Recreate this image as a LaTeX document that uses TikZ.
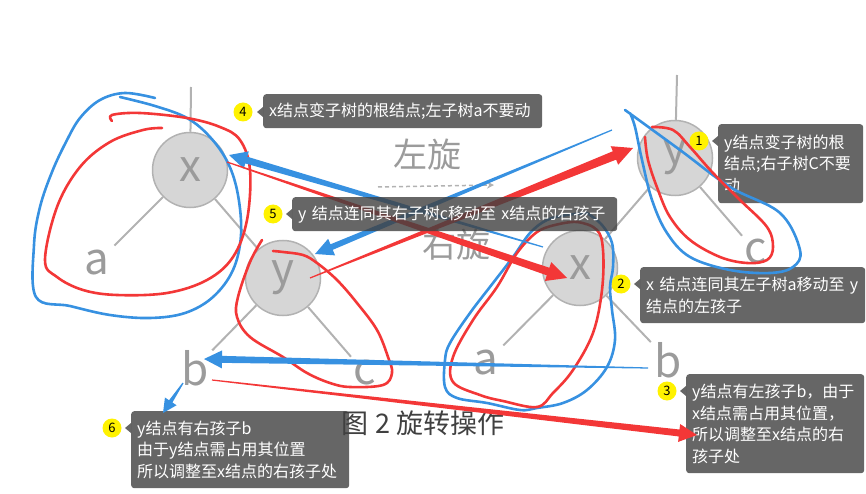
\documentclass[tikz,border=0pt]{standalone}
\usepackage{fontspec}
\setmainfont{Noto Sans CJK SC}
\usetikzlibrary{calc,arrows.meta}

\definecolor{penred}{RGB}{243,55,55}
\definecolor{penblue}{RGB}{55,145,225}
\definecolor{treeline}{RGB}{178,178,178}
\definecolor{treetext}{RGB}{155,155,155}
\definecolor{ballfill}{RGB}{214,214,214}

% hand drawn arrow: colour, tail, tip, half width, head half width, head length
\newcommand{\penarrow}[6]{%
  \coordinate (pa) at ($(#3)!#6!(#2)$);
  \fill[#1] ($(#2)!0.6pt!90:(#3)$) -- ($(pa)!#4!90:(#3)$) -- ($(pa)!#5!90:(#3)$) -- (#3)
    -- ($(pa)!#5!-90:(#3)$) -- ($(pa)!#4!-90:(#3)$) -- ($(#2)!0.6pt!-90:(#3)$) -- cycle;
}

\tikzset{
  ball/.style={circle, fill=ballfill, draw=treeline, line width=1.5pt, minimum size=75pt, inner sep=0pt, text=treetext, font=\fontsize{44}{44}\selectfont},
  leaf/.style={text=treetext, inner sep=2pt, font=\fontsize{44}{44}\selectfont},
  branch/.style={draw=treeline, line width=2pt},
  redloop/.style={draw=penred, line width=2.6pt, line cap=round, line join=round},
  blueloop/.style={draw=penblue, line width=2.6pt, line cap=round, line join=round},
  hintfill/.style={fill=black!75, fill opacity=0.8},
  hint/.style={hintfill, text opacity=1, text=white, rounded corners=3pt, inner xsep=6pt, inner ysep=0pt, align=left, anchor=north west, font=\fontsize{16}{21.5}\selectfont},
  badge/.style={circle, fill=yellow, minimum size=19pt, inner sep=0pt, font=\fontsize{13}{13}\selectfont},
}

\begin{document}
\begin{tikzpicture}[x=1pt, y=-1pt]
  \useasboundingbox (0,0) rectangle (866,494);
  % tree before the rotation
  \node[ball] (xl) at (190,170) {x};
  \node[ball] (yl) at (283,278) {y};
  \node[leaf] (al) at (97,263) {a};
  \node[leaf] (bl) at (195,368) {b};
  \node[leaf] (cl) at (365,373) {c};
  \coordinate (xltop) at (191,87);
  \draw[branch] (xltop) -- (xl);
  \draw[branch] (xl) -- (yl);
  \draw[branch, shorten >=4pt] (xl) -- (al);
  \draw[branch, shorten >=2pt] (yl) -- (bl);
  \draw[branch, shorten >=2pt] (yl) -- (cl);
  % tree after the rotation
  \node[ball] (yr) at (675,158) {y};
  \node[ball] (xr) at (580,268) {x};
  \node[leaf] (ar) at (486,363) {a};
  \node[leaf] (br) at (668,360) {b};
  \node[leaf] (cr) at (756,252) {c};
  \coordinate (yrtop) at (677,75);
  \draw[branch] (yrtop) -- (yr);
  \draw[branch] (yr) -- (xr);
  \draw[branch, shorten >=2pt] (yr) -- (cr);
  \draw[branch, shorten >=4pt] (xr) -- (ar);
  \draw[branch, shorten >=2pt] (xr) -- (br);
  % rotation marks
  \node[text=treetext, font=\fontsize{34}{34}\selectfont] (turnleft) at (427,155) {左旋};
  \node[text=treetext, font=\fontsize{34}{34}\selectfont] (turnright) at (456,245) {右旋};
  \coordinate (dashA) at (378,187);
  \coordinate (dashB) at (494,185);
  \draw[treeline, line width=1.5pt, dash pattern=on 4pt off 3pt, -{Stealth[length=7pt,width=7pt]}] (dashA) -- (dashB);
  % caption
  \node[text=black!75, font=\fontsize{27}{27}\selectfont] (caption) at (423,423) {图 2 旋转操作};

  % notes
  \node[hint, minimum width=145pt, minimum height=79pt, text width=133pt] (h1) at (718,124) {y结点变子树的根\\结点;右子树C不要\\动};
  \node[hint, minimum width=225pt, minimum height=56pt, text width=213pt] (h2) at (640,267) {x 结点连同其左子树a移动至 y\\结点的左孩子};
  \node[hint, minimum width=178pt, minimum height=99pt, text width=166pt] (h3) at (686,374) {y结点有左孩子b，由于\\x结点需占用其位置，\\所以调整至x结点的右\\孩子处};
  \node[hint, minimum width=279pt, minimum height=34pt, text width=267pt] (h4) at (263,94) {x结点变子树的根结点;左子树a不要动};
  \node[hint, minimum width=218pt, minimum height=77pt, text width=206pt] (h6) at (131,411) {y结点有右孩子b\\由于y结点需占用其位置\\所以调整至x结点的右孩子处};
  \node[badge] (n1) at (699,141) {1};
  \node[badge] (n2) at (621,284) {2};
  \node[badge] (n3) at (667,391) {3};
  \node[badge] (n4) at (243,112) {4};
  \node[badge] (n5) at (273,214) {5};
  \node[badge] (n6) at (112,428) {6};
  \foreach \h/\n in {h1/n1,h2/n2,h3/n3,h4/n4,h6/n6}
    \fill[hintfill] ($(\h.west |- \n)+(0,-5)$) -- ++(-6,5) -- ++(6,5) -- cycle;

  % pen loops
  \draw[blueloop] plot[smooth, tension=0.6] coordinates {(155,98) (125,93) (100,100) (80,118) (66,142) (52,172) (40,207) (34,245) (36,297) (70,306) (110,315) (150,318) (185,313) (213,297) (233,270) (241,235) (238,195) (228,163) (210,137) (187,118) (155,106) (120,97)};
  \draw[redloop] plot[smooth, tension=0.6] coordinates {(162,128) (143,130) (110,142) (80,167) (57,207) (45,260) (57,277) (83,290) (117,295) (167,293) (207,280) (233,257) (247,220) (250,170) (240,140) (220,127) (187,118) (140,113) (112,115) (112,121)};
  \draw[redloop] plot[smooth, tension=0.6] coordinates {(262,240) (250,262) (238,297) (237,317) (250,337) (283,357) (307,373) (330,383) (350,387) (383,385) (392,373) (388,357) (377,330) (357,303) (337,280) (317,263) (303,255) (283,252) (273,251)};
  \draw[blueloop] plot[smooth, tension=0.6] coordinates {(587,213) (602,225) (612,243) (613,267) (610,287) (612,310) (615,340) (607,367) (587,390) (563,403) (537,408) (520,410) (487,403) (457,398) (445,387) (445,360) (450,343) (470,313) (493,283) (513,257) (530,233) (547,220) (567,215) (587,213)};
  \draw[redloop] plot[smooth, tension=0.6] coordinates {(555,225) (577,222) (597,230) (603,250) (602,290) (593,333) (573,370) (553,393) (537,407) (503,401) (480,395) (453,382) (453,357) (473,320) (497,287) (517,253) (537,232) (555,225)};
  \draw[blueloop] plot[smooth, tension=0.6] coordinates {(625,110) (680,150) (730,187) (780,213) (800,250) (793,267) (770,273) (730,270) (690,257) (667,233) (652,200) (642,160) (635,127) (630,113)};
  \draw[redloop] plot[smooth, tension=0.6] coordinates {(652,127) (673,130) (690,147) (713,173) (740,200) (767,227) (773,247) (767,260) (747,263) (720,257) (690,240) (670,217) (658,190) (648,160) (645,137)};

  % pen arrows
  \coordinate (bAs) at (543,247); \coordinate (bAe) at (229,155);
  \coordinate (bBs) at (612,130); \coordinate (bBe) at (315,254);
  \coordinate (rCs) at (310,278); \coordinate (rCe) at (633,148);
  \coordinate (rDs) at (227,162); \coordinate (rDe) at (567,278);
  \coordinate (bEs) at (648,368); \coordinate (bEe) at (204,359);
  \coordinate (rFs) at (212,380); \coordinate (rFe) at (697,435);
  \coordinate (bGs) at (183,383); \coordinate (bGe) at (163,413);
  \penarrow{penblue}{bAs}{bAe}{3.5pt}{9pt}{18pt}
  \penarrow{penblue}{bBs}{bBe}{3pt}{9pt}{18pt}
  \penarrow{penred}{rCs}{rCe}{4.5pt}{10pt}{20pt}
  \penarrow{penred}{rDs}{rDe}{4pt}{10pt}{20pt}
  \penarrow{penblue}{bEs}{bEe}{3.5pt}{9pt}{18pt}
  \penarrow{penred}{rFs}{rFe}{3.5pt}{9pt}{18pt}
  \penarrow{penblue}{bGs}{bGe}{2pt}{7pt}{14pt}

  % note 5 lies over the strokes
  \node[hint, minimum width=325pt, minimum height=34pt, text width=313pt] (h5) at (292,197) {y 结点连同其右子树c移动至 x结点的右孩子};
  \fill[hintfill] ($(h5.west |- n5)+(0,-5)$) -- ++(-6,5) -- ++(6,5) -- cycle;
\end{tikzpicture}
\end{document}
